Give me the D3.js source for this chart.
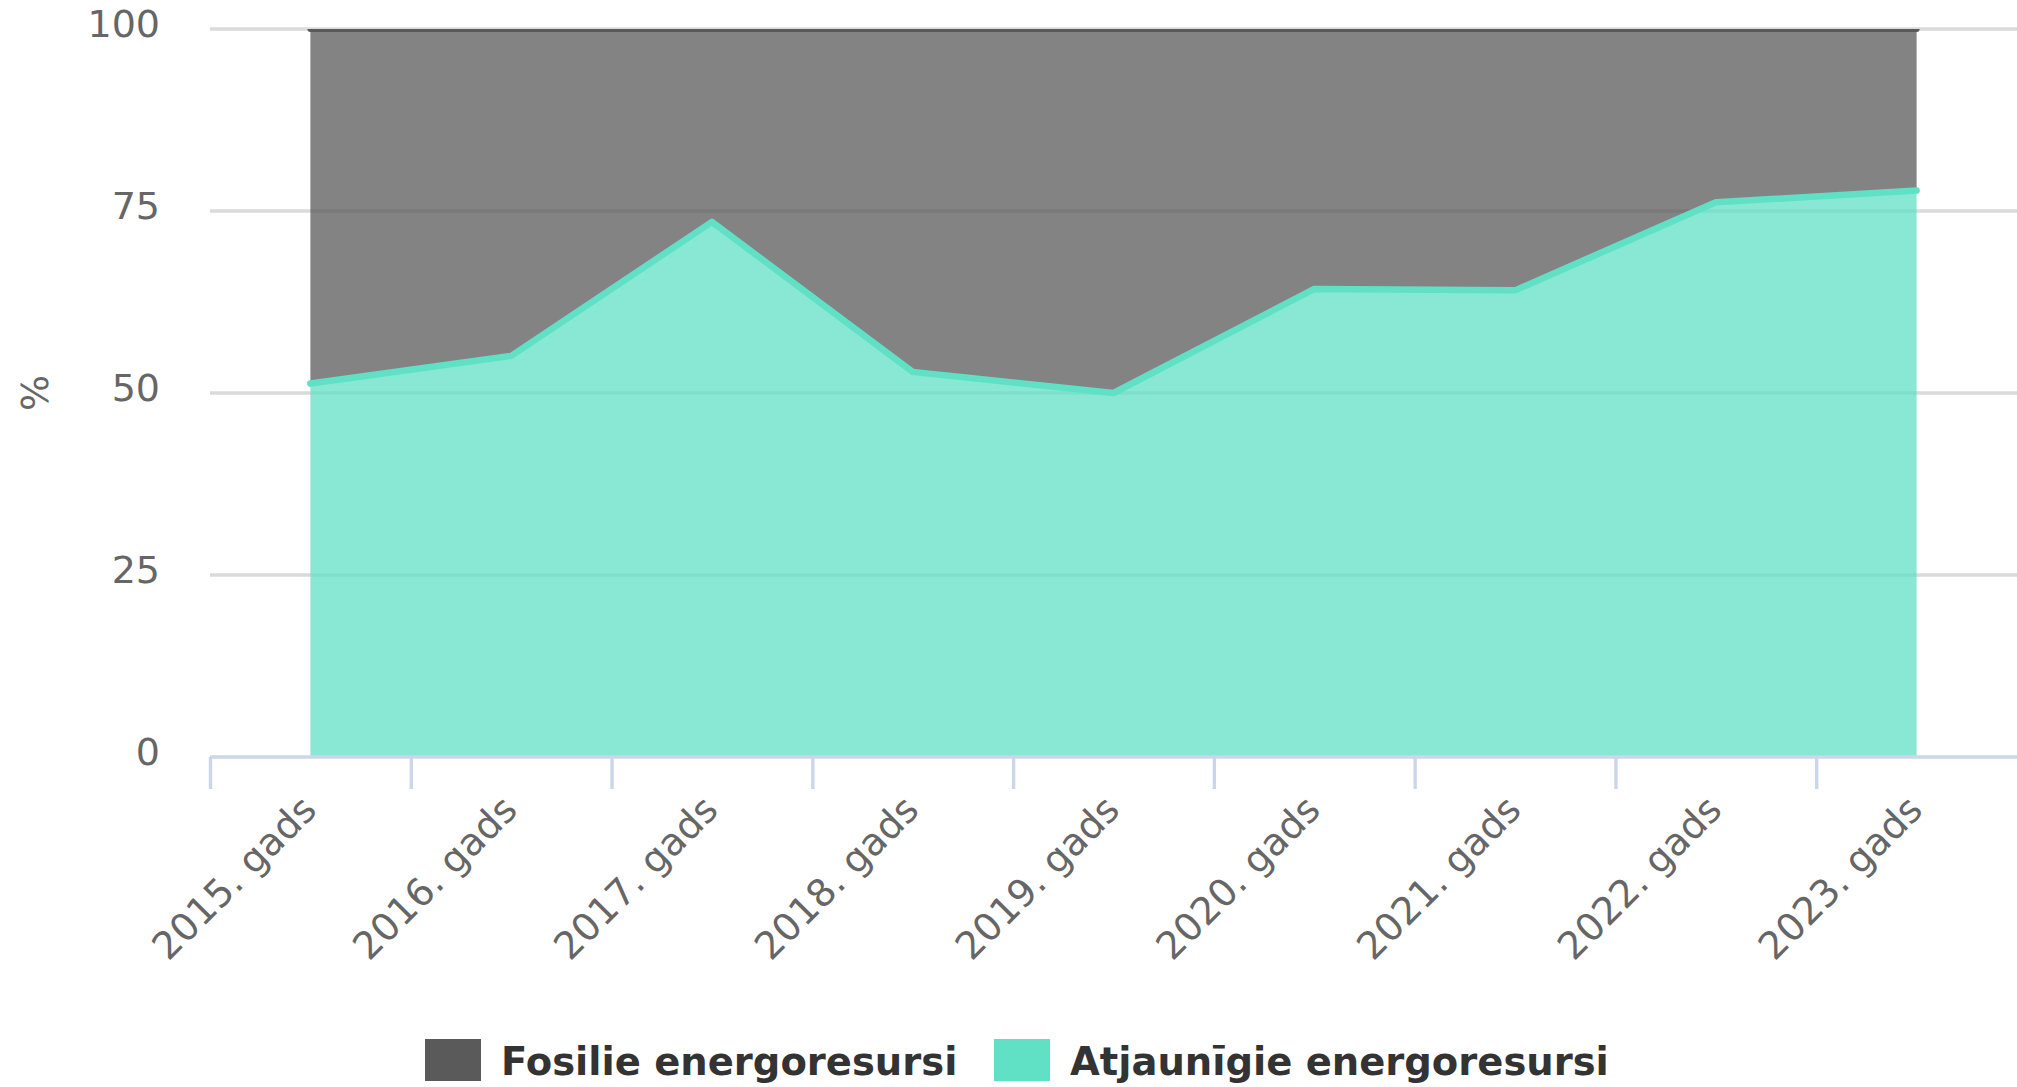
<!DOCTYPE html>
<html>
<head>
<meta charset="utf-8">
<script src="https://cdn.jsdelivr.net/npm/d3@7"></script>
<style>
  html, body { margin: 0; padding: 0; background: #ffffff; }
  svg { display: block; }
</style>
</head>
<body>
<svg id="chart" width="2017" height="1087"></svg>
<script>
// ---- data ----
const categories = ["2015. gads","2016. gads","2017. gads","2018. gads","2019. gads","2020. gads","2021. gads","2022. gads","2023. gads"];
const renewable = [51.3, 55.1, 73.5, 52.9, 50.0, 64.3, 64.1, 76.2, 77.8];
const fossil = renewable.map(v => +(100 - v).toFixed(1));
const yTicks = [0, 25, 50, 75, 100];
const seriesNames = ["Fosilie energoresursi", "Atjaunīgie energoresursi"];
const seriesColors = ["#5a5a5a", "#60e0c4"];
const yTitle = "%";

// ---- layout ----
const svg = d3.select("#chart");
const plot = { left: 210, right: 2017, top: 29, bottom: 757 };

const x = d3.scaleBand().domain(categories).range([plot.left, plot.right]).padding(0);
const cx = c => x(c) + x.bandwidth() / 2;
const y = d3.scaleLinear().domain([0, 100]).range([plot.bottom, plot.top]);

const font = "'DejaVu Sans', Verdana, sans-serif";

// gridlines
svg.append("g").selectAll("line").data(yTicks.filter(d => d !== 0)).join("line")
  .attr("x1", plot.left).attr("x2", plot.right)
  .attr("y1", d => y(d)).attr("y2", d => y(d))
  .attr("stroke", "#dadada").attr("stroke-width", 3.4);

// stacked data
const rows = categories.map((c, i) => ({ cat: c, ren: renewable[i], fos: fossil[i] }));
const stack = d3.stack().keys(["ren", "fos"]);
const layers = stack(rows);

svg.append("defs").append("clipPath").attr("id", "clip")
  .append("rect").attr("x", plot.left).attr("y", plot.top)
  .attr("width", plot.right - plot.left).attr("height", plot.bottom - plot.top);

const g = svg.append("g").attr("clip-path", "url(#clip)");

const area = d3.area()
  .x(d => cx(d.data.cat))
  .y0(d => y(d[0]))
  .y1(d => y(d[1]));
const topLine = d3.line()
  .x(d => cx(d.data.cat))
  .y(d => y(d[1]));

// fossil (top layer) fill then renewable fill, then lines
const fosLayer = layers[1], renLayer = layers[0];
g.append("path").datum(fosLayer).attr("d", area)
  .attr("fill", seriesColors[0]).attr("fill-opacity", 0.75);
g.append("path").datum(renLayer).attr("d", area)
  .attr("fill", seriesColors[1]).attr("fill-opacity", 0.75);
g.append("path").datum(fosLayer).attr("d", topLine)
  .attr("fill", "none").attr("stroke", seriesColors[0]).attr("stroke-width", 6)
  .attr("stroke-linejoin", "round").attr("stroke-linecap", "round");
svg.append("path").datum(renLayer).attr("d", topLine)
  .attr("fill", "none").attr("stroke", seriesColors[1]).attr("stroke-width", 6.5)
  .attr("stroke-linejoin", "round").attr("stroke-linecap", "round");

// x axis line and ticks (ticks at category boundaries)
svg.append("line")
  .attr("x1", plot.left).attr("x2", plot.right)
  .attr("y1", plot.bottom).attr("y2", plot.bottom)
  .attr("stroke", "#ccd6eb").attr("stroke-width", 3.4);
svg.append("g").selectAll("line").data(categories).join("line")
  .attr("x1", d => x(d) + 0.5).attr("x2", d => x(d) + 0.5)
  .attr("y1", plot.bottom).attr("y2", plot.bottom + 32)
  .attr("stroke", "#ccd6eb").attr("stroke-width", 3.4);

// x labels rotated -45
svg.append("g").selectAll("text").data(categories).join("text")
  .attr("transform", d => `translate(${cx(d) + 8},${plot.bottom + 55}) rotate(-45)`)
  .attr("text-anchor", "end")
  .attr("font-family", font).attr("font-size", 38).attr("fill", "#666666")
  .text(d => d);

// y labels
svg.append("g").selectAll("text").data(yTicks).join("text")
  .attr("x", 160).attr("y", d => y(d) + 8)
  .attr("text-anchor", "end")
  .attr("font-family", font).attr("font-size", 38).attr("fill", "#666666")
  .text(d => d);

// y title
svg.append("text")
  .attr("transform", `translate(48,${(plot.top + plot.bottom) / 2}) rotate(-90)`)
  .attr("text-anchor", "middle")
  .attr("font-family", font).attr("font-size", 38).attr("fill", "#666666")
  .text(yTitle);

// legend
const legendItems = [
  { name: seriesNames[0], color: seriesColors[0], x: 425 },
  { name: seriesNames[1], color: seriesColors[1], x: 994 }
];
const lg = svg.append("g");
legendItems.forEach(it => {
  lg.append("rect").attr("x", it.x).attr("y", 1039).attr("width", 56).attr("height", 42)
    .attr("fill", it.color);
  lg.append("text").attr("x", it.x + 76).attr("y", 1075)
    .attr("font-family", font).attr("font-size", 38.5).attr("font-weight", "bold")
    .attr("fill", "#333333").text(it.name);
});
</script>
</body>
</html>
